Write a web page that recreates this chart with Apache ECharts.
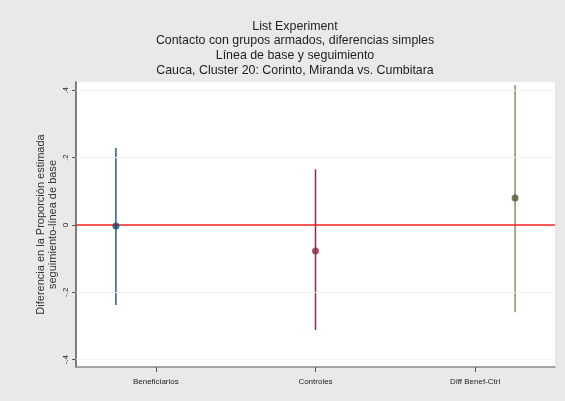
<!DOCTYPE html>
<html>
<head>
<meta charset="utf-8">
<script src="https://cdn.jsdelivr.net/npm/echarts@6/dist/echarts.min.js"></script>
<style>
  html, body { margin: 0; padding: 0; background: #e9e9e9; }
  #chart { width: 565px; height: 401px; }
</style>
</head>
<body>
<div id="chart"></div>
<script>
// data
const categories = ["Beneficiarios", "Controles", "Diff Benef-Ctrl"];
const markerX = [1, 2, 3];
const labelX = [1.2, 2.0, 2.8];
const estimates = [-0.003, -0.077, 0.08];
const lower = [-0.238, -0.312, -0.259];
const upper = [0.229, 0.166, 0.416];
const yTicks = [-0.4, -0.2, 0, 0.2, 0.4];
const yTickLabels = ["-.4", "-.2", "0", ".2", ".4"];

const lineColors = ["#2b5b88", "#8a2f48", "#8e8e5c"];
const pointColors = ["#1b4670", "#8a2a42", "#55552e"];

let myChart = echarts.init(document.getElementById("chart"));

let series = [];
categories.forEach(function (c, i) {
  series.push({
    name: c + " IC",
    type: "line",
    data: [[markerX[i], lower[i]], [markerX[i], upper[i]]],
    showSymbol: false,
    lineStyle: { color: lineColors[i], width: 1.5 },
    silent: true,
    z: 3,
  });
});
series.push({
  name: "estimado",
  type: "scatter",
  data: categories.map(function (c, i) {
    return { value: [markerX[i], estimates[i]], itemStyle: { color: pointColors[i] } };
  }),
  symbolSize: 7,
  z: 5,
  markLine: {
    silent: true,
    symbol: "none",
    label: { show: false },
    data: yTicks
      .filter(function (v) { return v !== 0; })
      .map(function (v) {
        return { yAxis: v, lineStyle: { color: "#f1f3f6", width: 1, type: "solid" } };
      })
      .concat([{ yAxis: 0, lineStyle: { color: "#fa2222", width: 1.5, type: "solid" } }]),
  },
});

let option = {
  backgroundColor: "#e9e9e9",
  animation: false,
  title: {
    text: "List Experiment\nContacto con grupos armados, diferencias simples\nLínea de base y seguimiento\nCauca, Cluster 20: Corinto, Miranda vs. Cumbitara",
    left: 290,
    top: 14,
    textAlign: "center",
    textStyle: {
      fontFamily: "Liberation Sans, Arial",
      fontWeight: "normal",
      fontSize: 12.4,
      lineHeight: 14.6,
      color: "#1e1e1e",
    },
  },
  grid: {
    left: 76,
    right: 10,
    top: 82,
    bottom: 34,
    show: true,
    backgroundColor: "#ffffff",
    borderWidth: 0,
  },
  xAxis: {
    type: "value",
    min: 0.8,
    max: 3.2,
    splitLine: { show: false },
    axisLine: { onZero: false, lineStyle: { color: "#8a8a8a", width: 1.5 } },
    axisTick: { customValues: labelX, length: 5, lineStyle: { color: "#555" } },
    axisLabel: {
      customValues: labelX,
      margin: 11,
      fontSize: 8,
      fontFamily: "Liberation Sans, Arial",
      color: "#222",
      formatter: function (v) {
        let i = labelX.findIndex(function (x) { return Math.abs(x - v) < 1e-6; });
        return i >= 0 ? categories[i] : "";
      },
    },
  },
  yAxis: {
    type: "value",
    min: -0.422,
    max: 0.425,
    name: "Diferencia en la Proporción estimada\nseguimiento-línea de base",
    nameLocation: "middle",
    nameRotate: 90,
    nameGap: 17,
    nameMoveOverlap: false,
    nameTextStyle: {
      fontFamily: "Liberation Sans, Arial",
      fontSize: 11,
      lineHeight: 12,
      color: "#333",
    },
    splitLine: { show: false },
    axisLine: { show: true, onZero: false, lineStyle: { color: "#555", width: 1.5 } },
    axisTick: { show: true, customValues: yTicks, length: 4, lineStyle: { color: "#555" } },
    axisLabel: {
      customValues: yTicks,
      rotate: 90,
      margin: 6,
      fontSize: 8,
      fontFamily: "Liberation Sans, Arial",
      color: "#222",
      formatter: function (v) {
        let i = yTicks.findIndex(function (t) { return Math.abs(t - v) < 1e-6; });
        return i >= 0 ? yTickLabels[i] : "";
      },
    },
  },
  series: series,
};

myChart.setOption(option);
</script>
</body>
</html>
